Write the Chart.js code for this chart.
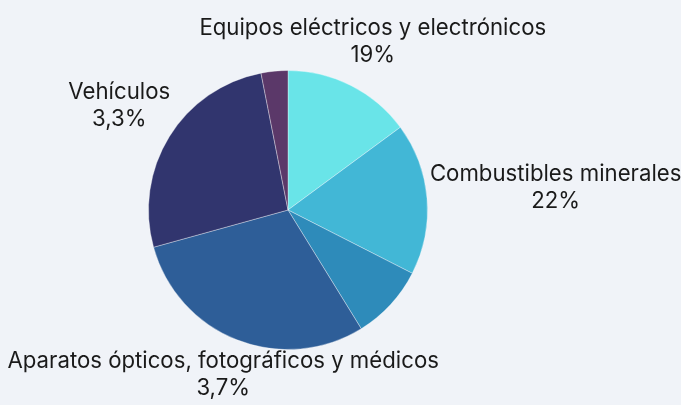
<!DOCTYPE html>
<html>
<head>
<meta charset="utf-8">
<script src="https://cdn.jsdelivr.net/npm/chart.js@4"></script>
<style>
  html, body { margin: 0; padding: 0; background: #F0F3F8; }
  #wrap { width: 681px; height: 405px; position: relative; }
</style>
</head>
<body>
<div id="wrap"><canvas id="pie"></canvas></div>
<script>
// slices, clockwise from 12 o'clock
var categories = ['Equipos eléctricos y electrónicos', 'Combustibles minerales', '',
    'Aparatos ópticos, fotográficos y médicos', 'Vehículos', ''];
var shareLabels = ['19%', '22%', '', '3,7%', '3,3%', ''];
var values = [14.9, 17.6, 8.7, 29.5, 26.2, 3.1];
var colors = ['#69E4E8', '#42B7D6', '#2E8BBA', '#2E5E98', '#31356E', '#5B3869'];

var FONT = '22.2px Inter';
var LINE_H = 27;

// labels sit outside each slice, on the ray through its middle
var outsideLabels = {
    id: 'outsideLabels',
    afterDatasetsDraw: function(chart) {
        var ctx = chart.ctx;
        var arcs = chart.getDatasetMeta(0).data;
        ctx.save();
        ctx.font = FONT;
        ctx.fillStyle = '#1A1A1A';
        ctx.textAlign = 'center';
        ctx.textBaseline = 'middle';
        arcs.forEach(function(arc, i) {
            if (!categories[i]) return;
            var lines = [categories[i], shareLabels[i]];
            var w = Math.max.apply(null, lines.map(function(l) { return ctx.measureText(l).width; }));
            var h = lines.length * LINE_H - 6;
            var p = arc.getProps(['x', 'y', 'startAngle', 'endAngle', 'outerRadius'], true);
            var mid = (p.startAngle + p.endAngle) / 2;
            var dx = Math.cos(mid), dy = Math.sin(mid);
            var tx = Math.abs(dx) > 1e-6 ? (w / 2) / Math.abs(dx) : Infinity;
            var ty = Math.abs(dy) > 1e-6 ? (h / 2) / Math.abs(dy) : Infinity;
            // a bit more room above/below the pie than at its sides
            var gap = 1 + 12 * Math.abs(dy) + 11 * Math.max(0, -dy);
            var d = p.outerRadius + gap + Math.min(tx, ty);
            var cx = p.x + dx * d, cy = p.y + dy * d;
            lines.forEach(function(l, k) {
                ctx.fillText(l, cx, cy + (k - (lines.length - 1) / 2) * LINE_H);
            });
        });
        ctx.restore();
    }
};

new Chart(document.getElementById('pie').getContext('2d'), {
    type: 'pie',
    data: {
        labels: categories,
        datasets: [{
            data: values,
            backgroundColor: colors,
            borderColor: 'rgba(255,255,255,0.35)',
            borderWidth: 1
        }]
    },
    options: {
        responsive: true,
        maintainAspectRatio: false,
        animation: false,
        layout: { padding: { left: 148, right: 253, top: 70, bottom: 55 } },
        plugins: {
            legend: { display: false },
            tooltip: { enabled: false }
        }
    },
    plugins: [outsideLabels]
});
</script>
</body>
</html>
